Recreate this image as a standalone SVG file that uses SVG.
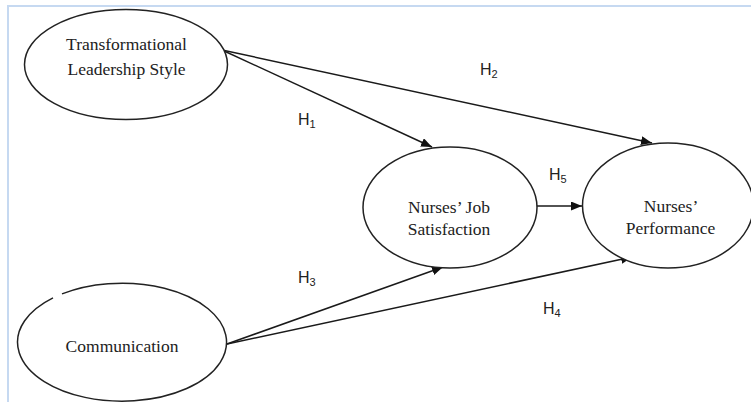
<svg xmlns="http://www.w3.org/2000/svg" width="751" height="402" viewBox="0 0 751 402">
  <defs>
    <marker id="arr" markerUnits="userSpaceOnUse" markerWidth="12" markerHeight="10" refX="11" refY="4.5" orient="auto">
      <path d="M0,0 L11,4.5 L0,9 Z" fill="#111"/>
    </marker>
    <style>
      .node { fill: #fff; stroke: #222; stroke-width: 1.5; }
      .lbl { font-size: 17.5px; fill: #222; text-anchor: middle; }
      .h { font-size: 16px; fill: #222; }
      .sub { font-size: 11px; }
      .edge { stroke: #1a1a1a; stroke-width: 1.5; fill: none; marker-end: url(#arr); }
      .frame { stroke: #c6d9f1; stroke-width: 2; fill: none; }
    </style>
  </defs>
  <rect width="751" height="402" fill="#fff"/>
  <path class="frame" d="M8,402 L8,6 L751,6"/>

  <g id="edges">
    <line class="edge" x1="222" y1="50" x2="432" y2="147"/>
    <line class="edge" x1="222" y1="50" x2="652" y2="143"/>
    <line class="edge" x1="537" y1="206" x2="582" y2="206"/>
    <line class="edge" x1="227" y1="344" x2="443" y2="267"/>
    <line class="edge" x1="227" y1="344" x2="632" y2="257"/>
  </g>

  <g id="edge-labels" font-family="'Liberation Sans', Arial, sans-serif">
    <text class="h" x="298" y="125">H<tspan class="sub" dy="3">1</tspan></text>
    <text class="h" x="480" y="75">H<tspan class="sub" dy="3">2</tspan></text>
    <text class="h" x="298" y="283">H<tspan class="sub" dy="3">3</tspan></text>
    <text class="h" x="543" y="314">H<tspan class="sub" dy="3">4</tspan></text>
    <text class="h" x="549" y="180">H<tspan class="sub" dy="3">5</tspan></text>
  </g>

  <g id="tls" font-family="'Liberation Serif', 'Times New Roman', serif">
    <ellipse class="node" cx="126" cy="64.5" rx="101.5" ry="55"/>
    <text class="lbl" x="126.5" y="50">Transformational</text>
    <text class="lbl" x="126.5" y="75">Leadership Style</text>
  </g>

  <g id="communication" font-family="'Liberation Serif', 'Times New Roman', serif">
    <path class="node" d="M62,293.9 A104.5,59 0 1 1 53,297.9"/>
    <text class="lbl" x="122" y="352">Communication</text>
  </g>

  <g id="job-satisfaction" font-family="'Liberation Serif', 'Times New Roman', serif">
    <ellipse class="node" cx="450" cy="207.5" rx="87" ry="60.5"/>
    <text class="lbl" x="449" y="213">Nurses’ Job</text>
    <text class="lbl" x="449" y="235">Satisfaction</text>
  </g>

  <g id="performance" font-family="'Liberation Serif', 'Times New Roman', serif">
    <ellipse class="node" cx="668" cy="205.5" rx="85.5" ry="62.5"/>
    <text class="lbl" x="671" y="212">Nurses’</text>
    <text class="lbl" x="670.5" y="234">Performance</text>
  </g>
</svg>
